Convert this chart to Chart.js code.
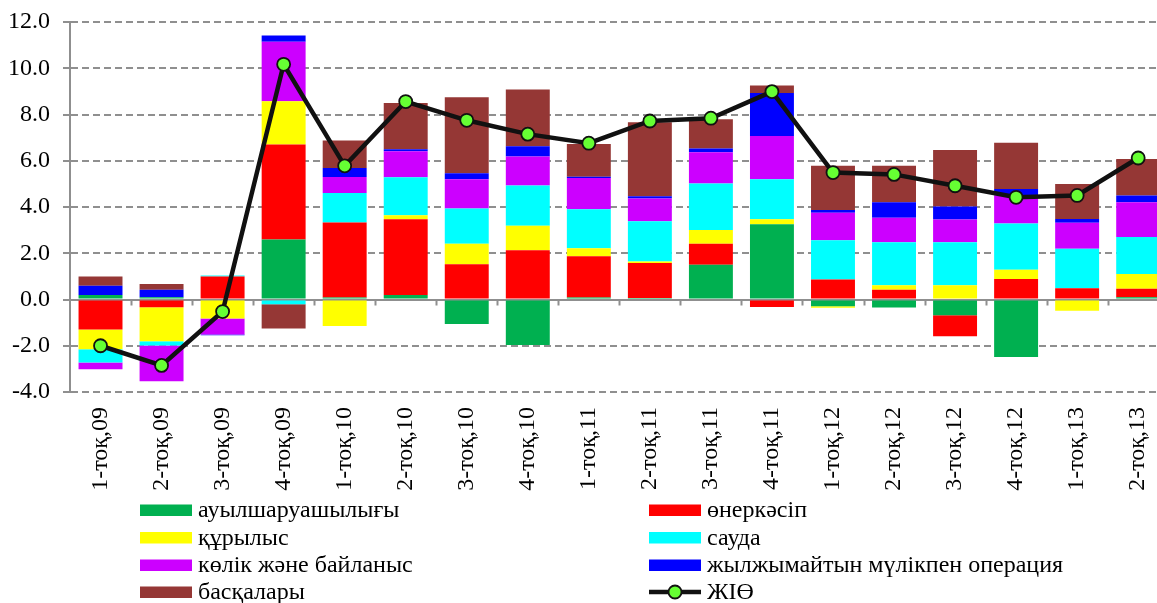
<!DOCTYPE html>
<html>
<head>
<meta charset="utf-8">
<script src="https://cdn.jsdelivr.net/npm/chart.js@4.4.1/dist/chart.umd.min.js"></script>
<style>
  html, body { margin: 0; padding: 0; background: #fff; overflow: hidden; }
  #wrap { width: 1177px; height: 603px; }
</style>
</head>
<body>
<div id="wrap"><canvas id="c" width="1177" height="603"></canvas></div>
<script>
const categories = ['1-тоқ,09','2-тоқ,09','3-тоқ,09','4-тоқ,09','1-тоқ,10','2-тоқ,10','3-тоқ,10','4-тоқ,10','1-тоқ,11','2-тоқ,11','3-тоқ,11','4-тоқ,11','1-тоқ,12','2-тоқ,12','3-тоқ,12','4-тоқ,12','1-тоқ,13','2-тоқ,13'];

const agriculture   = [0.20, 0.10, 0.00, 2.59, 0.09, 0.19, -1.06, -1.97, 0.09, 0.06, 1.50, 3.25, -0.29, -0.35, -0.68, -2.49, 0.00, 0.10];
const industry      = [-1.30, -0.33, 1.00, 4.11, 3.24, 3.28, 1.52, 2.13, 1.78, 1.52, 0.91, -0.32, 0.86, 0.42, -0.91, 0.89, 0.49, 0.37];
const construction  = [-0.85, -1.47, -0.82, 1.87, -1.15, 0.17, 0.89, 1.06, 0.35, 0.06, 0.60, 0.22, -0.07, 0.20, 0.62, 0.40, -0.49, 0.63];
const trade         = [-0.57, -0.19, 0.04, -0.20, 1.28, 1.65, 1.52, 1.74, 1.68, 1.74, 2.01, 1.73, 1.70, 1.86, 1.86, 2.00, 1.71, 1.60];
const transport     = [-0.30, -1.55, -0.69, 2.58, 0.69, 1.12, 1.27, 1.25, 1.35, 0.99, 1.35, 1.87, 1.19, 1.05, 0.98, 1.22, 1.12, 1.51];
const realEstate    = [0.40, 0.32, -0.04, 0.27, 0.39, 0.09, 0.26, 0.45, 0.06, 0.10, 0.16, 1.86, 0.12, 0.68, 0.56, 0.27, 0.16, 0.29];
const others        = [0.40, 0.25, 0.00, -1.05, 1.19, 2.00, 3.29, 2.45, 1.41, 3.19, 1.27, 0.32, 1.91, 1.57, 2.45, 2.00, 1.52, 1.58];
const gdp           = [-2.00, -2.85, -0.52, 10.17, 5.78, 8.56, 7.75, 7.15, 6.76, 7.72, 7.84, 8.99, 5.49, 5.41, 4.92, 4.42, 4.50, 6.12];

const yTicks = [-4, -2, 0, 2, 4, 6, 8, 10, 12];

const seriesNames = ['ауылшаруашылығы','өнеркәсіп','құрылыс','сауда','көлік және байланыс','жылжымайтын мүлікпен операция','басқалары','ЖІӨ'];

const FONT = "'Liberation Serif', 'Times New Roman', serif";
const GRID = '#8f8f8f';

function bar(label, data, color) {
  return { type: 'bar', label, data, backgroundColor: color, borderWidth: 0,
           barPercentage: 0.72, categoryPercentage: 1.0, stack: 's', order: 1 };
}

const datasets = [
  bar(seriesNames[0], agriculture, '#00B050'),
  bar(seriesNames[1], industry, '#FF0000'),
  bar(seriesNames[2], construction, '#FFFF00'),
  bar(seriesNames[3], trade, '#00FFFF'),
  bar(seriesNames[4], transport, '#CC00FF'),
  bar(seriesNames[5], realEstate, '#0000FF'),
  bar(seriesNames[6], others, '#953735'),
  { type: 'line', label: seriesNames[7], data: gdp, stack: 'gdp', order: 0,
    borderColor: '#111111', borderWidth: 4.5, tension: 0,
    pointRadius: 6.5, pointHoverRadius: 6.5,
    pointBackgroundColor: '#66FF33', pointBorderColor: '#111111', pointBorderWidth: 1.8 }
];

// zero-line category tick marks
const zeroTicks = {
  id: 'zeroTicks',
  beforeDatasetsDraw(chart) {
    const { ctx, scales: { x, y } } = chart;
    const y0 = y.getPixelForValue(0);
    const w = x.getPixelForValue(1) - x.getPixelForValue(0);
    ctx.save();
    ctx.strokeStyle = GRID;
    ctx.lineWidth = 2;
    ctx.beginPath();
    for (let i = 1; i <= categories.length; i++) {
      const px = Math.round(x.getPixelForValue(i) - w / 2) + 0.5;
      ctx.moveTo(px, y0);
      ctx.lineTo(px, y0 + 6);
    }
    ctx.stroke();
    ctx.restore();
  }
};

// two-column legend
const twoColLegend = {
  id: 'twoColLegend',
  afterDraw(chart) {
    const { ctx } = chart;
    const colX = [140, 649];
    const rowY = [510, 537.5, 565, 592];
    ctx.save();
    ctx.font = '24px ' + FONT;
    ctx.textBaseline = 'middle';
    ctx.fillStyle = '#000';
    chart.data.datasets.forEach((ds, i) => {
      const cx = colX[i % 2], cy = rowY[Math.floor(i / 2)];
      if (ds.type === 'line') {
        ctx.strokeStyle = ds.borderColor;
        ctx.lineWidth = 4.5;
        ctx.beginPath(); ctx.moveTo(cx, cy); ctx.lineTo(cx + 52, cy); ctx.stroke();
        ctx.beginPath(); ctx.arc(cx + 26, cy, 6.5, 0, Math.PI * 2);
        ctx.fillStyle = ds.pointBackgroundColor; ctx.fill();
        ctx.lineWidth = 1.8; ctx.strokeStyle = ds.pointBorderColor; ctx.stroke();
      } else {
        ctx.fillStyle = ds.backgroundColor;
        ctx.fillRect(cx, cy - 5.5, 52, 11.5);
      }
      ctx.fillStyle = '#000';
      ctx.fillText(ds.label, cx + 58, cy + 1);
    });
    ctx.restore();
  }
};

new Chart(document.getElementById('c'), {
  data: { labels: categories, datasets },
  options: {
    responsive: false,
    animation: false,
    events: [],
    layout: { padding: { top: 22, left: 0, right: 0, bottom: 111 } },
    plugins: { legend: { display: false }, tooltip: { enabled: false } },
    scales: {
      x: {
        stacked: true,
        offset: true,
        grid: { display: false, drawTicks: false },
        border: { display: false },
        ticks: { autoSkip: false, minRotation: 90, maxRotation: 90, padding: 15,
                 color: '#000', font: { family: FONT, size: 24 } },
        afterFit: s => { s.height = 100; s.paddingLeft = 0; s.paddingRight = 0; }
      },
      y: {
        stacked: true,
        min: yTicks[0], max: yTicks[yTicks.length - 1],
        afterBuildTicks: s => { s.ticks = yTicks.map(v => ({ value: v })); },
        ticks: { padding: 13, color: '#000', font: { family: FONT, size: 24 },
                 callback: v => Number(v).toFixed(1) },
        grid: { color: GRID, lineWidth: 2, tickLength: 7, tickColor: GRID, tickWidth: 2 },
        border: { display: true, color: GRID, width: 2,
                  dash: c => (c.tick && c.tick.value === 0) ? [] : [7, 4] },
        afterFit: s => { s.width = 70; s.paddingTop = 0; s.paddingBottom = 0; }
      }
    }
  },
  plugins: [zeroTicks, twoColLegend]
});
</script>
</body>
</html>
